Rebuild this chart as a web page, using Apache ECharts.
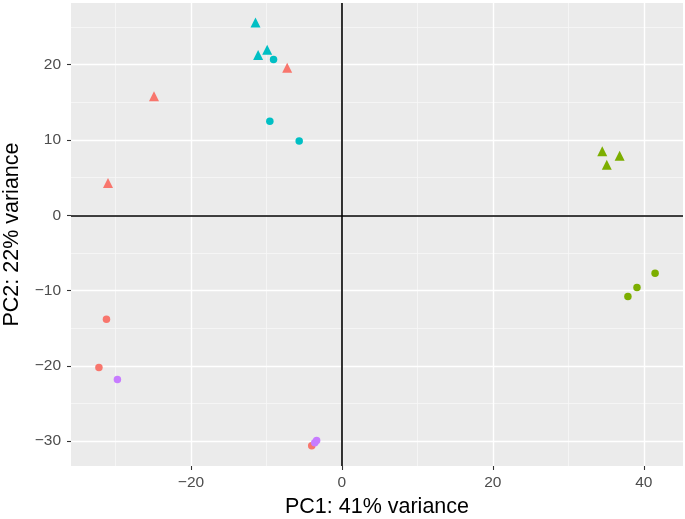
<!DOCTYPE html>
<html>
<head>
<meta charset="utf-8">
<script src="https://cdn.jsdelivr.net/npm/echarts@6/dist/echarts.min.js"></script>
<style>html,body{margin:0;padding:0;background:#fff}#c{width:685px;height:519px}</style>
</head>
<body>
<div id="c"></div>
<script>
// Groups: colour = condition, shape = batch
const redTriangles = [[-31.0, 4.3], [-24.9, 15.8], [-7.25, 19.6]];
const cyanTriangles = [[-11.45, 25.6], [-11.1, 21.3], [-9.9, 22.0]];
const greenTriangles = [[34.5, 8.5], [36.8, 7.9], [35.1, 6.7]];
const redCircles = [[-31.2, -13.8], [-32.2, -20.2], [-4.0, -30.6]];
const cyanCircles = [[-9.06, 20.7], [-9.55, 12.5], [-5.66, 9.87]];
const greenCircles = [[41.5, -7.7], [39.1, -9.6], [37.9, -10.8]];
const purpleCircles = [[-29.75, -21.8], [-3.6, -30.2], [-3.35, -29.9]];

const xMajorTicks = [-20, 0, 20, 40];
const xMinorTicks = [-30, -10, 10, 30];
const yMajorTicks = [-30, -20, -10, 0, 10, 20];
const yMinorTicks = [-25, -15, -5, 5, 15, 25];
const xRange = [-35.9, 45.2];
const yRange = [-33.3, 28.2];

const RED = '#F8766D', GREEN = '#7CAE00', CYAN = '#00BFC4', PURPLE = '#C77CFF';
const font = 'Liberation Sans, Arial, Helvetica, sans-serif';
const fmt = v => String(v).replace('-', '\u2212');

function majorAxis(range, ticks, isX) {
  return {
    type: 'value', min: range[0], max: range[1],
    position: isX ? 'bottom' : 'left',
    axisLine: { show: false, onZero: false },
    axisTick: { show: true, length: 4, customValues: ticks, lineStyle: { color: '#333333', width: 1.1 } },
    axisLabel: { customValues: ticks, formatter: fmt, color: '#4D4D4D', fontSize: 15.5, fontFamily: font, margin: isX ? 9 : 10 },
    splitLine: { show: true, lineStyle: { color: '#FFFFFF', width: 1.4 } },
    name: isX ? 'PC1: 41% variance' : 'PC2: 22% variance',
    nameLocation: 'middle',
    nameGap: isX ? 29 : 48,
    nameTextStyle: { color: '#000000', fontSize: 21.5, fontFamily: font },
    z: 1
  };
}
function minorAxis(range, ticks, isX) {
  return {
    type: 'value', min: range[0], max: range[1],
    position: isX ? 'bottom' : 'left',
    axisLine: { show: false, onZero: false },
    axisTick: { show: false, customValues: ticks },
    axisLabel: { show: false, customValues: ticks },
    splitLine: { show: true, lineStyle: { color: '#F7F7F7', width: 0.8 } },
    z: 0
  };
}

const chart = echarts.init(document.getElementById('c'), null, { renderer: 'canvas' });
function sc(name, data, color, symbol, size) {
  return { name, type: 'scatter', xAxisIndex: 0, yAxisIndex: 0, data, symbol, symbolSize: size,
    itemStyle: { color, opacity: 1 }, z: 5 };
}
chart.setOption({
  animation: false,
  grid: { left: 71, right: 2, top: 3, bottom: 53, show: true, backgroundColor: '#EBEBEB', borderWidth: 0,
    containLabel: false, outerBoundsMode: 'none' },
  xAxis: [majorAxis(xRange, xMajorTicks, true), minorAxis(xRange, xMinorTicks, true)],
  yAxis: [majorAxis(yRange, yMajorTicks, false), minorAxis(yRange, yMinorTicks, false)],
  series: [
    {
      type: 'scatter', xAxisIndex: 0, yAxisIndex: 0, data: [], z: 3,
      markLine: {
        silent: true, symbol: 'none', animation: false,
        label: { show: false },
        lineStyle: { color: '#000000', width: 1.6, type: 'solid' },
        data: [{ xAxis: 0 }, { yAxis: 0 }]
      }
    },
    sc('redT', redTriangles, RED, 'triangle', 10),
    sc('cyanT', cyanTriangles, CYAN, 'triangle', 10),
    sc('greenT', greenTriangles, GREEN, 'triangle', 10),
    sc('redC', redCircles, RED, 'circle', 7.5),
    sc('cyanC', cyanCircles, CYAN, 'circle', 7.5),
    sc('greenC', greenCircles, GREEN, 'circle', 7.5),
    sc('purpleC', purpleCircles, PURPLE, 'circle', 7.5)
  ]
});
</script>
</body>
</html>
